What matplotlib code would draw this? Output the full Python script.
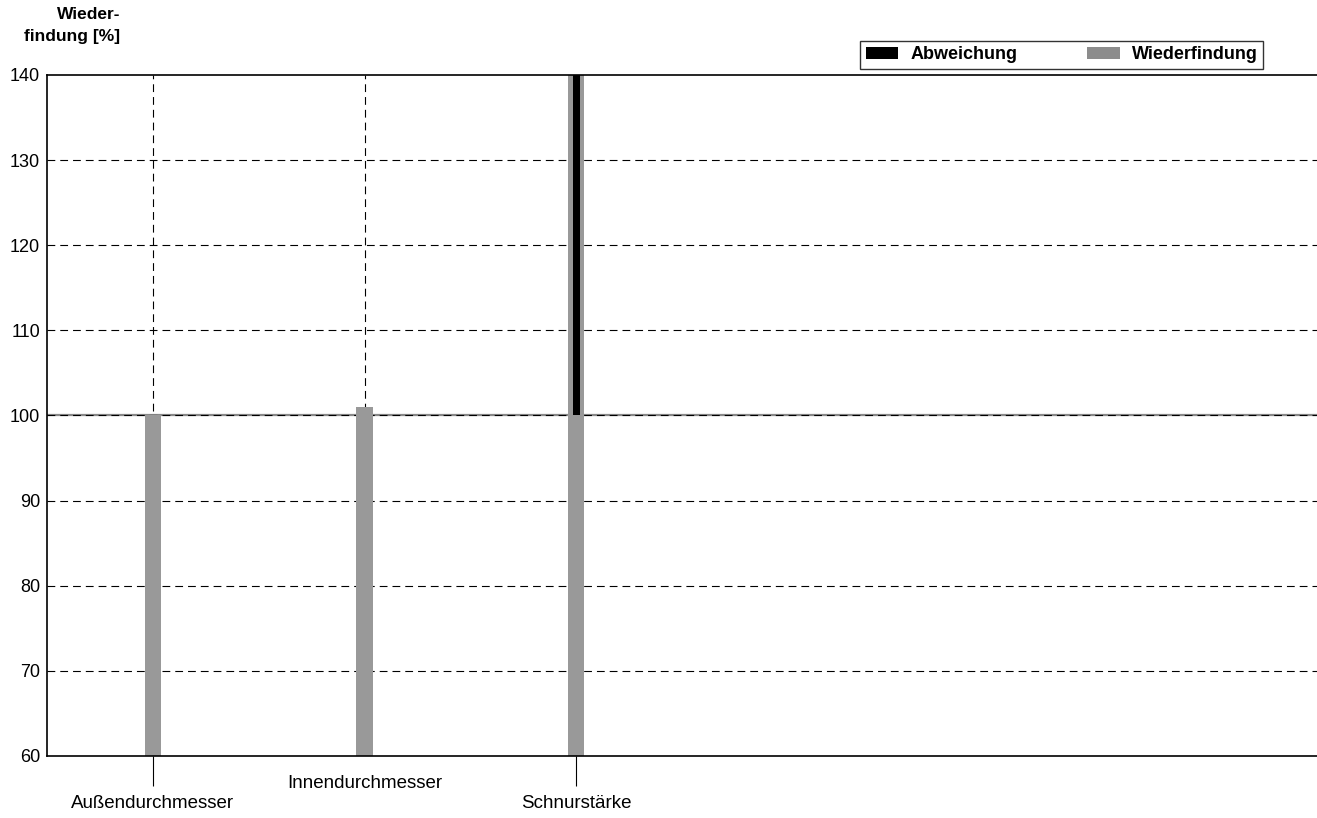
import numpy as np
import matplotlib.pyplot as plt
from matplotlib.patches import Patch

# values
categories = ["Außendurchmesser", "Innendurchmesser", "Schnurstärke"]
wiederfindung = [100, 101, 150]      # [%]
abweichung = [0, 0, 50]              # drawn from the 100 % line upwards
yticks = [60, 70, 80, 90, 100, 110, 120, 130, 140]

plt.rcParams['font.family'] = ['Liberation Sans', 'DejaVu Sans']
plt.rcParams['font.size'] = 13

GRAY = '#999999'
DASH = (0, (7, 4.5))

fig = plt.figure(figsize=(13.17, 8.18), dpi=100)
ax = fig.add_axes([47 / 1317, 1 - 756 / 818, 1 - 47 / 1317, (756 - 75) / 818])

x = np.arange(len(categories)) + 0.5
ax.set_xlim(0, 6)
ax.set_ylim(60, 140)

# grid lines
for y in yticks[1:-1]:
    ax.axhline(y, color='black', lw=0.8, ls=DASH, zorder=1)
ax.axhline(100, color='#888888', lw=1.6, zorder=0.9)
for xi in x:
    ax.axvline(xi, color='black', lw=0.8, ls=DASH, zorder=1)

ax.bar(x, wiederfindung, width=0.076, color=GRAY, zorder=2)
ax.bar(x, abweichung, bottom=100, width=0.033, color='black', zorder=3)

ax.set_yticks(yticks)
ax.tick_params(axis='y', length=0, pad=5, labelsize=13)

# staggered category labels, long ticks only on outer ones
ax.set_xticks(x[::2])
ax.set_xticklabels([])
ax.tick_params(axis='x', length=21.6, width=0.8, color='black')
for i, (xi, name) in enumerate(zip(x, categories)):
    off = -34.5 if i % 2 == 0 else -19.5
    ax.annotate(name, xy=(xi, 0), xycoords=('data', 'axes fraction'),
                xytext=(0, off), textcoords='offset points',
                ha='center', va='center', fontsize=13.5)

for s in ['top', 'left', 'bottom']:
    ax.spines[s].set_linewidth(1.2)
ax.spines['right'].set_visible(False)

fig.text(120 / 1317, 1 - 7 / 818, "Wieder-\nfindung [%]", ha='right', va='top',
         fontsize=12.5, fontweight='bold', linespacing=1.6)

handles = [Patch(facecolor='black', edgecolor='none', label='Abweichung'),
           Patch(facecolor='#8c8c8c', edgecolor='none', label='Wiederfindung')]
leg = fig.legend(handles=handles, loc='upper right',
                 bbox_to_anchor=(1263 / 1317, 1 - 41 / 818),
                 ncol=2, frameon=True, fancybox=False, borderaxespad=0,
                 handlelength=1.8, handleheight=0.6, handletextpad=0.65,
                 columnspacing=3.9, borderpad=0.3,
                 prop={'weight': 'bold', 'size': 13})
leg.get_frame().set_edgecolor('black')
leg.get_frame().set_linewidth(1.0)

fig.savefig('out.png', dpi=100)
